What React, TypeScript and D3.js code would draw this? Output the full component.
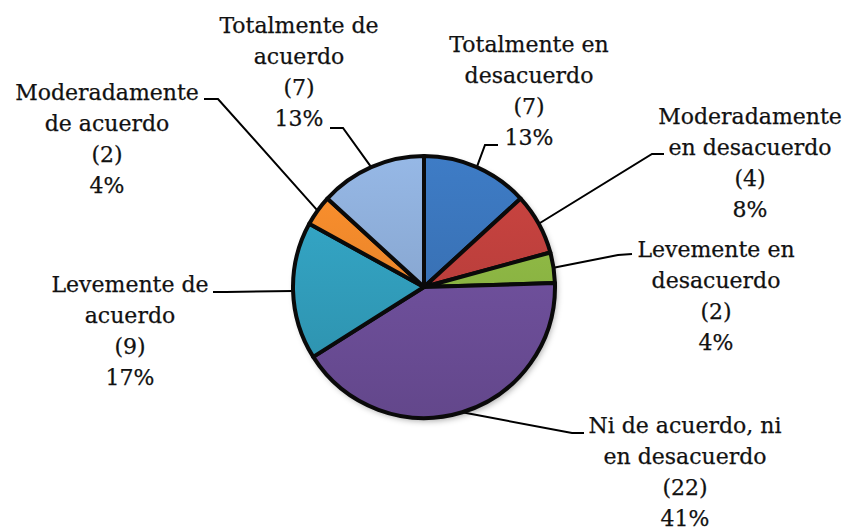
import * as d3 from "d3";
import { useEffect, useRef } from "react";

// survey answers, clockwise from 12 o'clock
const categories = [
  "Totalmente en desacuerdo",
  "Moderadamente en desacuerdo",
  "Levemente en desacuerdo",
  "Ni de acuerdo, ni en desacuerdo",
  "Levemente de acuerdo",
  "Moderadamente de acuerdo",
  "Totalmente de acuerdo",
];
const counts = [7, 4, 2, 22, 9, 2, 7];
const percents = ["13%", "8%", "4%", "41%", "17%", "4%", "13%"];
const labelLines = [
  ["Totalmente en", "desacuerdo"],
  ["Moderadamente", "en desacuerdo"],
  ["Levemente en", "desacuerdo"],
  ["Ni de acuerdo, ni", "en desacuerdo"],
  ["Levemente de", "acuerdo"],
  ["Moderadamente", "de acuerdo"],
  ["Totalmente de", "acuerdo"],
];
const colors = ["#3b76bc", "#c2413e", "#90bb45", "#7252a0", "#33a3c2", "#f68a2c", "#8eaeda"];

// label layout: text centre x, first baseline, elbow of leader, end of leader
const labelX = [529, 750, 716, 685, 130, 107, 299];
const labelY = [52, 124, 257, 433, 292, 100, 33];
const elbow = [[485, 145], [652, 154], [618, 255], [572, 433], [226, 292], [218, 99], [343, 128]];
const tickEnd = [[498, 145], [664, 154], [632, 254], [584, 433], [213, 292], [204, 99], [330, 128]];

const W = 847, H = 531;
const cx = 424, cy = 287, R = 131;
const lineH = 31;

export default function App() {
  const ref = useRef<SVGSVGElement>(null);

  useEffect(() => {
    const svg = d3.select(ref.current);
    svg.selectAll("*").remove();

    const data = categories.map((c, i) => ({ cat: c, value: counts[i], i }));
    const pie = d3.pie<any>().value((d) => d.value).sort(null);
    const arcs = pie(data);
    const arc = d3.arc<any>().innerRadius(0).outerRadius(R);

    const defs = svg.append("defs");
    const shadow = defs.append("filter").attr("id", "shadow")
      .attr("x", "-20%").attr("y", "-20%").attr("width", "140%").attr("height", "140%");
    shadow.append("feDropShadow").attr("dx", 2).attr("dy", 3)
      .attr("stdDeviation", 3).attr("flood-color", "#000").attr("flood-opacity", 0.35);

    // vertical shading, in the pie's own (translated) space
    colors.forEach((c, i) => {
      const g = defs.append("linearGradient").attr("id", `grad${i}`)
        .attr("gradientUnits", "userSpaceOnUse")
        .attr("x1", 0).attr("y1", -R).attr("x2", 0).attr("y2", R);
      g.append("stop").attr("offset", "0%").attr("stop-color", d3.color(c)!.brighter(0.15).formatHex());
      g.append("stop").attr("offset", "100%").attr("stop-color", d3.color(c)!.darker(0.4).formatHex());
    });

    // leader lines
    const lines = svg.append("g").attr("fill", "none").attr("stroke", "#000").attr("stroke-width", 2);
    arcs.forEach((a, i) => {
      const mid = (a.startAngle + a.endAngle) / 2;
      const p0: [number, number] = [cx + R * Math.sin(mid), cy - R * Math.cos(mid)];
      lines.append("path").attr("d", d3.line()([p0, elbow[i] as [number, number], tickEnd[i] as [number, number]]));
    });

    const g = svg.append("g").attr("transform", `translate(${cx},${cy})`);
    g.append("circle").attr("r", R).attr("fill", "#fff").attr("filter", "url(#shadow)");
    g.selectAll("path.slice")
      .data(arcs)
      .join("path")
      .attr("class", "slice")
      .attr("d", arc)
      .attr("fill", (d) => `url(#grad${d.data.i})`)
      .attr("stroke", "#0a0a0a")
      .attr("stroke-width", 4)
      .attr("stroke-linejoin", "round");

    // labels
    const txt = svg.append("g")
      .attr("font-family", "'DejaVu Serif', serif")
      .attr("font-size", 22)
      .attr("fill", "#111")
      .attr("stroke", "#111")
      .attr("stroke-width", 0.25)
      .attr("text-anchor", "middle");
    labelLines.forEach((ls, i) => {
      const all = [...ls, `(${counts[i]})`, percents[i]];
      const t = txt.append("text").attr("x", labelX[i]).attr("y", labelY[i]);
      all.forEach((s, k) => {
        t.append("tspan").attr("x", labelX[i]).attr("y", labelY[i] + k * lineH).text(s);
      });
    });
  }, []);

  return (
    <svg
      ref={ref}
      width={W}
      height={H}
      style={{ position: "absolute", left: 0, top: 0, background: "#fff" }}
    />
  );
}
